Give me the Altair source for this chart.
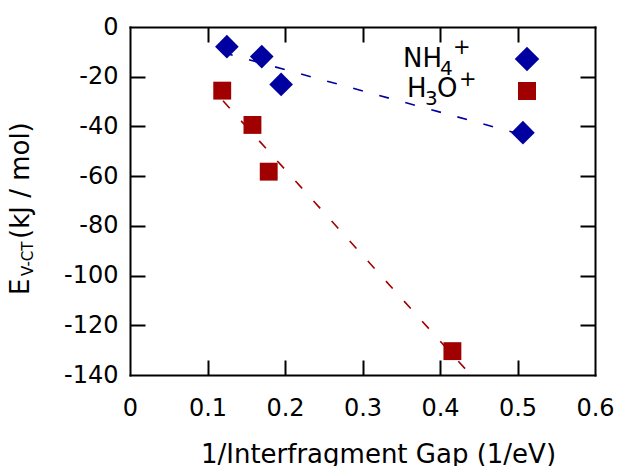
import altair as alt
import pandas as pd

# ---- data ----
series = ["NH4+", "H3O+"]
colors = ["#0000a0", "#a00000"]
nh4_x = [0.125, 0.170, 0.195, 0.507]
nh4_y = [-7.9, -11.9, -23.1, -42.5]
h3o_x = [0.119, 0.158, 0.179, 0.416]
h3o_y = [-25.6, -39.4, -58.2, -130.4]
fit_x = [0.12, 0.50]
nh4_fit_y = [-10.3, -42.8]
h3o_fit_y = [-29.7, -160.8]
x_ticks = [0, 0.1, 0.2, 0.3, 0.4, 0.5, 0.6]
y_ticks = [0, -20, -40, -60, -80, -100, -120, -140]
x_title = "1/Interfragment Gap (1/eV)"

W, H = 465, 348
FONT = "DejaVu Sans"
TICK = 15

pts = pd.DataFrame({
    "x": nh4_x + h3o_x,
    "y": nh4_y + h3o_y,
    "s": [series[0]] * len(nh4_x) + [series[1]] * len(h3o_x),
})
fits = pd.DataFrame({
    "x": fit_x + fit_x,
    "y": nh4_fit_y + h3o_fit_y,
    "s": [series[0]] * 2 + [series[1]] * 2,
})

xs = alt.Scale(domain=[0, 0.6], nice=False, zero=False)
ys = alt.Scale(domain=[-140, 0], nice=False, zero=False)
col = alt.Color("s:N", scale=alt.Scale(domain=series, range=colors), legend=None)
lab = "'' + datum.value"


def tick_axis(orient, offset, values, domain):
    return alt.Axis(orient=orient, offset=offset, values=values, labels=False,
                    domain=domain, domainColor="black", domainWidth=2, domainCap="square",
                    grid=False, ticks=True, tickSize=TICK,
                    tickWidth=2, tickColor="black", title="")


# fit lines, carrying the inward ticks of bottom and left edges
lines = alt.Chart(fits).mark_line(strokeDash=[10, 17], strokeWidth=1.6, clip=True).encode(
    x=alt.X("x:Q", scale=xs, axis=tick_axis("top", -H, x_ticks[1:-1], False)),
    y=alt.Y("y:Q", scale=ys, axis=tick_axis("right", -W, y_ticks[1:-1], False)),
    color=col,
    detail="s:N",
)

# data symbols with the labelled axes
points = alt.Chart(pts).mark_point(filled=True, opacity=1, strokeWidth=0).encode(
    x=alt.X("x:Q", scale=xs, axis=alt.Axis(
        orient="bottom", values=x_ticks, labelExpr=lab, ticks=False, tickSize=0,
        domain=True, domainColor="black", domainWidth=2, domainCap="square",
        grid=False, labelFontSize=24, labelFont=FONT, labelColor="black",
        labelBaseline="alphabetic", labelPadding=40, labelFlush=False,
        title=x_title, titleFont=FONT, titleFontSize=26, titleFontWeight="normal",
        titleColor="black", titleX=248, titleY=87, titleAlign="center",
        titleBaseline="alphabetic")),
    y=alt.Y("y:Q", scale=ys, axis=alt.Axis(
        orient="left", values=y_ticks, labelExpr=lab, ticks=False, tickSize=0,
        domain=True, domainColor="black", domainWidth=2, domainCap="square",
        grid=False, labelFontSize=24, labelFont=FONT, labelColor="black",
        labelPadding=12, labelFlush=False, title="")),
    color=col,
    shape=alt.Shape("s:N", scale=alt.Scale(domain=series, range=["diamond", "square"]), legend=None),
    size=alt.Size("s:N", scale=alt.Scale(domain=series, range=[560, 320]), legend=None),
)

# invisible copy carrying the top and right frame edges with inward ticks
mirror = alt.Chart(pts).mark_point(opacity=0).encode(
    x=alt.X("x:Q", scale=xs, axis=tick_axis("bottom", -H, x_ticks[1:-1], True)),
    y=alt.Y("y:Q", scale=ys, axis=tick_axis("left", -W, y_ticks[1:-1], True)),
)


def txt(text, x, y, size, angle=0):
    return alt.Chart(pd.DataFrame({"t": [text]})).mark_text(
        font=FONT, fontSize=size, align="left", baseline="alphabetic",
        angle=angle, color="black").encode(
        text="t:N", x=alt.value(x), y=alt.value(y))


# y-axis title E_{V-CT}(kJ / mol), rotated
ytitle = [
    txt("E", -101, 268, 26, 270),
    txt("V-CT", -97, 249, 15, 270),
    txt("(kJ / mol)", -101, 212, 26, 270),
]

# key: text pieces with sub/superscripts and symbols
key_text = [
    txt("NH", 273, 40, 26),
    txt("4", 310, 48, 20),
    txt("+", 323, 27, 21),
    txt("H", 277, 70, 26),
    txt("3", 295, 78, 20),
    txt("O", 307, 70, 26),
    txt("+", 329, 59, 21),
]
key_sym = [
    alt.Chart(pd.DataFrame({"s": [series[0]]})).mark_point(
        filled=True, opacity=1, strokeWidth=0, shape="diamond", size=600, color=colors[0]
    ).encode(x=alt.value(397), y=alt.value(32)),
    alt.Chart(pd.DataFrame({"s": [series[1]]})).mark_point(
        filled=True, opacity=1, strokeWidth=0, shape="square", size=324, color=colors[1]
    ).encode(x=alt.value(397), y=alt.value(64)),
]

chart = alt.layer(lines, points, mirror, *ytitle, *key_text, *key_sym).resolve_axis(
    x="independent", y="independent"
).properties(
    width=W, height=H,
    autosize=alt.AutoSizeParams(type="none"),
    padding={"left": 130, "top": 27, "right": 23, "bottom": 91},
).configure_view(stroke="black", strokeWidth=2).configure(background="white")

chart.save("out.html", embed_options={"renderer": "svg", "actions": False})
